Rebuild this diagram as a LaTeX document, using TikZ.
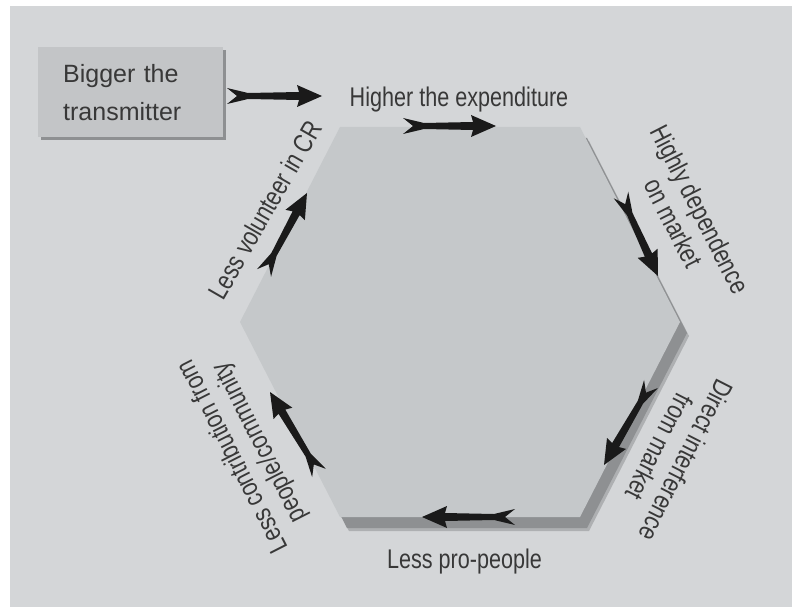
\documentclass[tikz,border=0pt]{standalone}
\usepackage{fontspec}
\setmainfont{Liberation Sans}
\newfontfamily\narrowfont[FakeStretch=0.8]{Liberation Sans}
\usetikzlibrary{calc}
\definecolor{bgc}{HTML}{D4D6D8}
\definecolor{hexc}{HTML}{C5C8CA}
\definecolor{shadc}{HTML}{8E9092}
\definecolor{shadlc}{HTML}{AEB0B2}
\definecolor{boxc}{HTML}{C3C5C7}
\definecolor{txtc}{HTML}{383838}
\definecolor{arrc}{HTML}{1A1A1A}
\newcommand\fromS[2]{($(\tikztostart)!#1!(\tikztotarget)!#2!90:(\tikztotarget)$)}
\newcommand\fromT[2]{($(\tikztotarget)!#1!(\tikztostart)!#2!-90:(\tikztostart)$)}
\tikzset{
  lbl/.style={inner sep=0pt, text=txtc, font=\narrowfont\fontsize{27}{30}\selectfont},
  boxs/.style={fill=boxc, inner ysep=0pt, text=txtc, font=\fontsize{25}{38}\selectfont},
  fatarrow/.style={fill=arrc, to path={
      \fromS{0pt}{8pt} -- \fromS{10pt}{0pt} -- \fromS{0pt}{-8pt} -- \fromS{21pt}{-3pt}
      -- \fromT{23pt}{-4pt} -- \fromT{25pt}{-11pt} -- (\tikztotarget)
      -- \fromT{25pt}{11pt} -- \fromT{23pt}{4pt} -- \fromS{21pt}{3pt} -- cycle}}
}
\begin{document}
\begin{tikzpicture}[x=1pt,y=-1pt]
\useasboundingbox (0,0) rectangle (792,607);
\fill[white] (0,0) rectangle (792,607);
\fill[bgc] (10,6) rectangle (792,607);

% hexagon corners
\coordinate (A) at (340,127);
\coordinate (B) at (580,127);
\coordinate (C) at (680,322);
\coordinate (D) at (580,517);
\coordinate (E) at (340,517);
\coordinate (F) at (240,322);

% shadow
\fill[shadlc] ([shift={(9,14)}]A) -- ([shift={(9,14)}]B) -- ([shift={(9,14)}]C) -- ([shift={(9,14)}]D) -- ([shift={(9,14)}]E) -- ([shift={(9,14)}]F) -- cycle;
\fill[shadc] ([shift={(7,11)}]A) -- ([shift={(7,11)}]B) -- ([shift={(7,11)}]C) -- ([shift={(7,11)}]D) -- ([shift={(7,11)}]E) -- ([shift={(7,11)}]F) -- cycle;
\fill[hexc] (A) -- (B) -- (C) -- (D) -- (E) -- (F) -- cycle;

% box
\fill[shadc] (41,50) rectangle (226,140);
\node[boxs, minimum width=185pt, minimum height=90pt, anchor=north west,
      inner xsep=25pt, align=left, text width=135pt] (big) at (38,47) {Bigger the\\transmitter};

% labels
\node[lbl, anchor=base] (hte) at (459,107) {Higher the expenditure};
\node[lbl, rotate=-63, align=center] (hdm) at (687,216) {Highly dependence\\on market};
\node[lbl, rotate=-117, align=center] (dim) at (673,454) {Direct interference\\from market};
\node[lbl, anchor=base] (lpp) at (464.5,568) {Less pro-people};
\node[lbl, rotate=117, align=center] (lcp) at (247,449) {Less contribution from\\people/community};
\node[lbl, rotate=60] (lvc) at (265,210) {Less volunteer in CR};

% arrow end points
\coordinate (a1s) at (227,96);  \coordinate (a1e) at (322,96);
\coordinate (a2s) at (403,126); \coordinate (a2e) at (496,126);
\coordinate (a3s) at (621,195); \coordinate (a3e) at (658,276);
\coordinate (a4s) at (651,384); \coordinate (a4e) at (604,465);
\coordinate (a5s) at (515,517); \coordinate (a5e) at (422,517);
\coordinate (a6s) at (319,473); \coordinate (a6e) at (270,392);
\coordinate (a7s) at (264,273); \coordinate (a7e) at (307,193);

\foreach \i in {1,...,7} { \path[fatarrow] (a\i s) to (a\i e); }
\end{tikzpicture}
\end{document}
